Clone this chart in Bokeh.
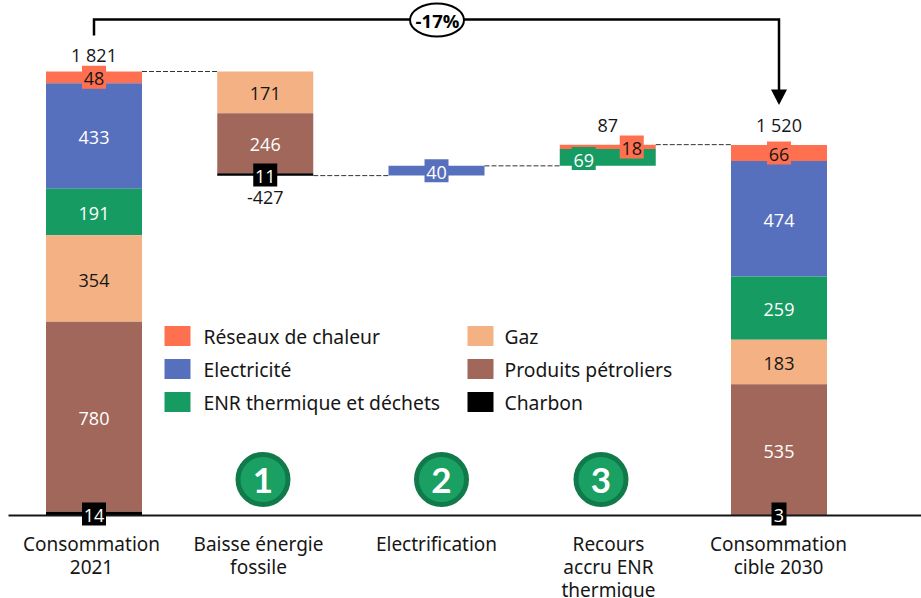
from bokeh.plotting import figure
from bokeh.embed import file_html
from bokeh.resources import INLINE
from bokeh.core.properties import value

series = ["Réseaux de chaleur", "Electricité", "ENR thermique et déchets", "Gaz", "Produits pétroliers", "Charbon"]
colors = ["#FF7050", "#5770BE", "#169B62", "#F4B183", "#A1675A", "#000000"]
label_colors = ["#161616", "#FFFFFF", "#FFFFFF", "#161616", "#FFFFFF", "#FFFFFF"]

categories = [["Consommation", "2021"], ["Baisse énergie", "fossile"], ["Electrification"],
              ["Recours", "accru ENR", "thermique"], ["Consommation", "cible 2030"]]
totals = ["1 821", "-427", "", "87", "1 520"]

reseaux = [48, 0, 0, 18, 66]
electricite = [433, 0, 40, 0, 474]
enr = [191, 0, 0, 69, 259]
gaz = [354, 171, 0, 0, 183]
petrole = [780, 246, 0, 0, 535]
charbon = [14, 11, 0, 0, 3]
values = [reseaux, electricite, enr, gaz, petrole, charbon]
tops = [1821, 1821, 1434, 1521, 1520]
change = "-17%"
steps = ["1", "2", "3"]

W, H = 921, 598
BASE_PX, SCALE = 515.0, (515.0 - 71.0) / 1821
X0_PX, DX = 93.5, 171.25

def dx(px):
    return (px - X0_PX) / DX
def dy(py):
    return (BASE_PX - py) / SCALE

p = figure(width=W, height=H, x_range=(dx(0), dx(W)), y_range=(dy(H), dy(0)),
           output_backend="svg", toolbar_location=None, min_border=0,
           x_axis_type=None, y_axis_type=None)
p.grid.visible = False
p.outline_line_color = None

BAR = 96 / DX
NUM = value("Open Sans")
TXT = value("Noto Sans")
DARK = "#161616"
TXT_DY = 1.5 * 1 / SCALE

for i, top in enumerate(tops):
    y = top
    for vals, col in zip(values, colors):
        v = vals[i]
        if v == 0:
            continue
        p.vbar(x=[i], top=[y], bottom=[y - v], width=BAR, fill_color=col, line_color=None)
        y -= v

levels = [1821, 1394, 1434, 1521]
for i, lv in enumerate(levels):
    p.line([i + BAR / 2, i + 1 - BAR / 2], [lv, lv], line_color="#333333", line_width=1, line_dash="5 2")

p.line([dx(8), dx(921)], [0, 0], line_color=DARK, line_width=2)

for i, top in enumerate(tops):
    y = top
    present = [k for k, vals in enumerate(values) if vals[i] != 0]
    for k in present:
        v = values[k][i]
        cy = y - v / 2
        y -= v
        cx = i
        if i == 3:
            cx = i + (24 / DX if k == 0 else -24 / DX)
        if k == 5:
            cy = dy(BASE_PX - 1.5) if i != 1 else dy(174.5)
        if i == 3:
            cy = dy(146.5) if k == 0 else dy(158)
        txt = str(v)
        p.rect([cx], [cy], width=24 if len(txt) > 1 else 15, height=23,
               width_units="screen", height_units="screen", fill_color=colors[k], line_color=None)
        p.text([cx], [cy - TXT_DY], text=[txt], text_align="center", text_baseline="middle",
               text_color=label_colors[k], text_font_size="18px", text_font=NUM)

for i, t in enumerate(totals):
    if not t:
        continue
    py = {0: 54, 1: 197, 3: 124.5, 4: 124.5}[i]
    p.text([i], [dy(py)], text=[t], text_align="center", text_baseline="middle",
           text_color=DARK, text_font_size="18px", text_font=NUM)

p.line([0, 0, 4, 4], [dy(35), dy(19), dy(19), dy(92)], line_color="#000000", line_width=2.5,
       line_join="miter")
p.patch([4 - 8 / DX, 4 + 8 / DX, 4], [dy(89), dy(89), dy(104.5)], fill_color="#000000", line_color=None)
p.ellipse([dx(436.5)], [dy(19.5)], width=54, height=33, width_units="screen", height_units="screen",
          fill_color="#FFFFFF", line_color="#000000", line_width=2)
p.text([dx(437)], [dy(19.5)], text=[change], text_align="center", text_baseline="middle",
       text_color="#000000", text_font_size="18.5px", text_font=NUM, text_font_style="bold")

cat_px = [91, 258, 436, 608, 778]
for i, lines in enumerate(categories):
    for j, t in enumerate(lines):
        p.text([dx(cat_px[i])], [dy(543.5 + 23 * j)], text=[t], text_align="center", text_baseline="middle",
               text_color=DARK, text_font_size="19px", text_font=TXT)

step_px = [262.5, 441, 600.5]
for cx, s in zip(step_px, steps):
    p.circle([dx(cx)], [dy(479)], radius=25, radius_units="screen", fill_color="#1BA064",
             line_color="#117A4A", line_width=5)
    p.text([dx(cx)], [dy(479.5)], text=[s], text_align="center", text_baseline="middle",
           text_color="#FFFFFF", text_font_size="35px", text_font=value("Lato"), text_font_style="bold")

rows = [335.5, 368.5, 401.5]
for k, name in enumerate(series):
    col_px, txt_px = (164, 203) if k < 3 else (467, 504)
    py = rows[k % 3]
    p.rect([dx(col_px + 13)], [dy(py)], width=26, height=20, width_units="screen", height_units="screen",
           fill_color=colors[k], line_color=None)
    p.text([dx(txt_px)], [dy(py)], text=[name], text_align="left", text_baseline="middle",
           text_color=DARK, text_font_size="19.3px", text_font=TXT)

open("out.html", "w").write(file_html(p, INLINE))
